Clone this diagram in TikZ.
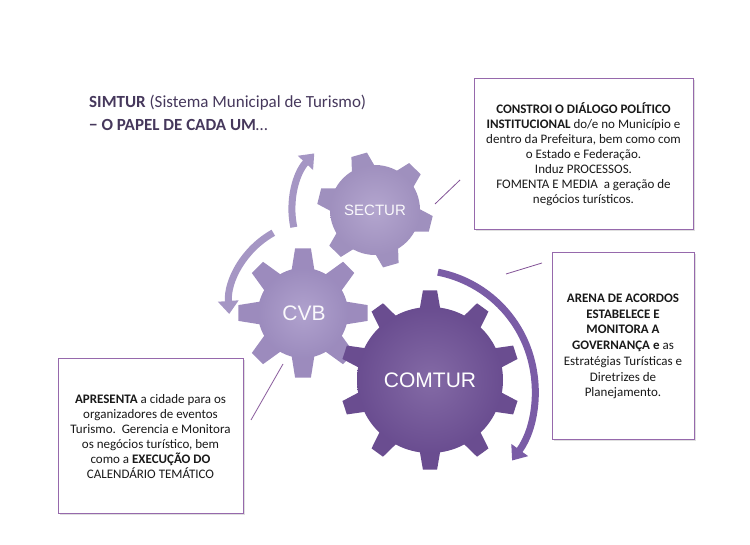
\documentclass[tikz,border=0pt]{standalone}
\usepackage{fontspec}
\setmainfont{Carlito}
\newfontfamily\gearfont{Liberation Sans}
\usetikzlibrary{arrows.meta,shadows}

\definecolor{titlecol}{RGB}{70,56,92}
\definecolor{boxline}{RGB}{150,105,172}
\definecolor{linkcol}{RGB}{130,82,150}
\definecolor{gearlight}{RGB}{166,150,198}
\definecolor{gearmid}{RGB}{162,145,197}
\definecolor{geardark}{RGB}{110,80,150}
\definecolor{arrowlight}{RGB}{165,150,196}
\definecolor{arrowdark}{RGB}{122,92,166}

% gear: centre, teeth, inner r, outer r, first tooth angle, half base, half tip, colour
\newcommand{\gearshape}[8]{%
  \begin{scope}[shift={(#1)}]
    \foreach \i in {1,...,#2}{
      \pgfmathsetmacro{\ang}{#5+360*(\i-1)/#2}
      \fill[#8!96!black] (\ang-#6:#3-4) -- (\ang-#7:#4) -- (\ang+#7:#4) -- (\ang+#6:#3-4) -- cycle;
    }
    \shade[inner color=#8!85!white, outer color=#8!96!black] (0,0) circle[radius=#3];
  \end{scope}}

\tikzset{
  infobox/.style={draw=boxline, line width=1pt, fill=white, align=center,
    inner sep=0pt, font=\fontsize{13}{15}\selectfont, text=black!90,
    drop shadow={opacity=0.25, shadow xshift=1.5pt, shadow yshift=-1.5pt}},
  gearlabel/.style={font=\gearfont, text=white!94!gearlight},
  link/.style={draw=linkcol, line width=0.8pt},
  turn/.style={line width=7pt, -{Triangle[width=20pt,length=13pt]}}
}

\begin{document}
\begin{tikzpicture}[x=1pt,y=1pt]
        \useasboundingbox (0,0) rectangle (750,545);

        \node[anchor=west, inner sep=0pt, align=left, text=titlecol,
              font=\fontsize{17}{23}\selectfont] (papel) at (89, 432.5)
              { \textbf{SIMTUR} (Sistema Municipal de Turismo) \\ \textbf{− O PAPEL DE CADA UM}… };

        % engrenagens
        \gearshape{375,335}{6}{45}{58}{106}{18}{8}{gearlight}
        \gearshape{303,232}{8}{45}{65}{90}{17}{7}{gearmid}
        \gearshape{430,165}{10}{73}{90}{90}{9}{4.5}{geardark}

        \node[gearlabel, font=\fontsize{15}{15}\gearfont] (sectur) at (375, 335) {SECTUR};
        \node[gearlabel, font=\fontsize{21}{21}\gearfont] (cvb) at (304, 232) {CVB};
        \node[gearlabel, font=\fontsize{21}{21}\gearfont, text=white] (comtur) at (430, 165) {COMTUR};

        % setas
        \draw[turn, arrowlight] (375,335) ++(192:83) arc[start angle=192, end angle=137, radius=83];
        \draw[turn, arrowlight] (315,237) ++(119:86) arc[start angle=119, end angle=184, radius=86];
        \draw[turn, arrowdark] (415,155) ++(79:120) arc[start angle=79, end angle=-36, radius=120];

        % caixas
        \node[infobox, minimum width=219, minimum height=151] (dialogo) at (583.5, 391)
              { \textbf{CONSTROI O DIÁLOGO POLÍTICO} \\
                \textbf{INSTITUCIONAL} do/e no Município e \\
                dentro da Prefeitura, bem como com \\
                o Estado e Federação. \\
                Induz PROCESSOS. \\
                FOMENTA E MEDIA\ \ a geração de \\
                negócios turísticos. };
        \node[infobox, minimum width=142, minimum height=187, font=\fontsize{13}{15.7}\selectfont] (arena) at (623, 198.5)
              { \textbf{ARENA DE ACORDOS} \\
                \textbf{ESTABELECE E} \\
                \textbf{MONITORA A} \\
                \textbf{GOVERNANÇA e} as \\
                Estratégias Turísticas e \\
                Diretrizes de \\
                Planejamento. };
        \node[infobox, minimum width=185, minimum height=155] (apresenta) at (150.5, 108.5)
              { \textbf{APRESENTA} a cidade para os \\
                organizadores de eventos \\
                Turismo.\ \ Gerencia e Monitora \\
                os negócios turístico, bem \\
                como a \textbf{EXECUÇÃO DO} \\
                CALENDÁRIO TEMÁTICO };

        % ligações
        \coordinate (d1) at (460, 365);
        \coordinate (d2) at (435, 341);
        \coordinate (a1) at (542, 282);
        \coordinate (a2) at (506, 271);
        \coordinate (c1) at (283, 181);
        \coordinate (c2) at (251, 125);
        \draw[link] (d1) -- (d2);
        \draw[link] (a1) -- (a2);
        \draw[link] (c1) -- (c2);

    \end{tikzpicture}
\end{document}
